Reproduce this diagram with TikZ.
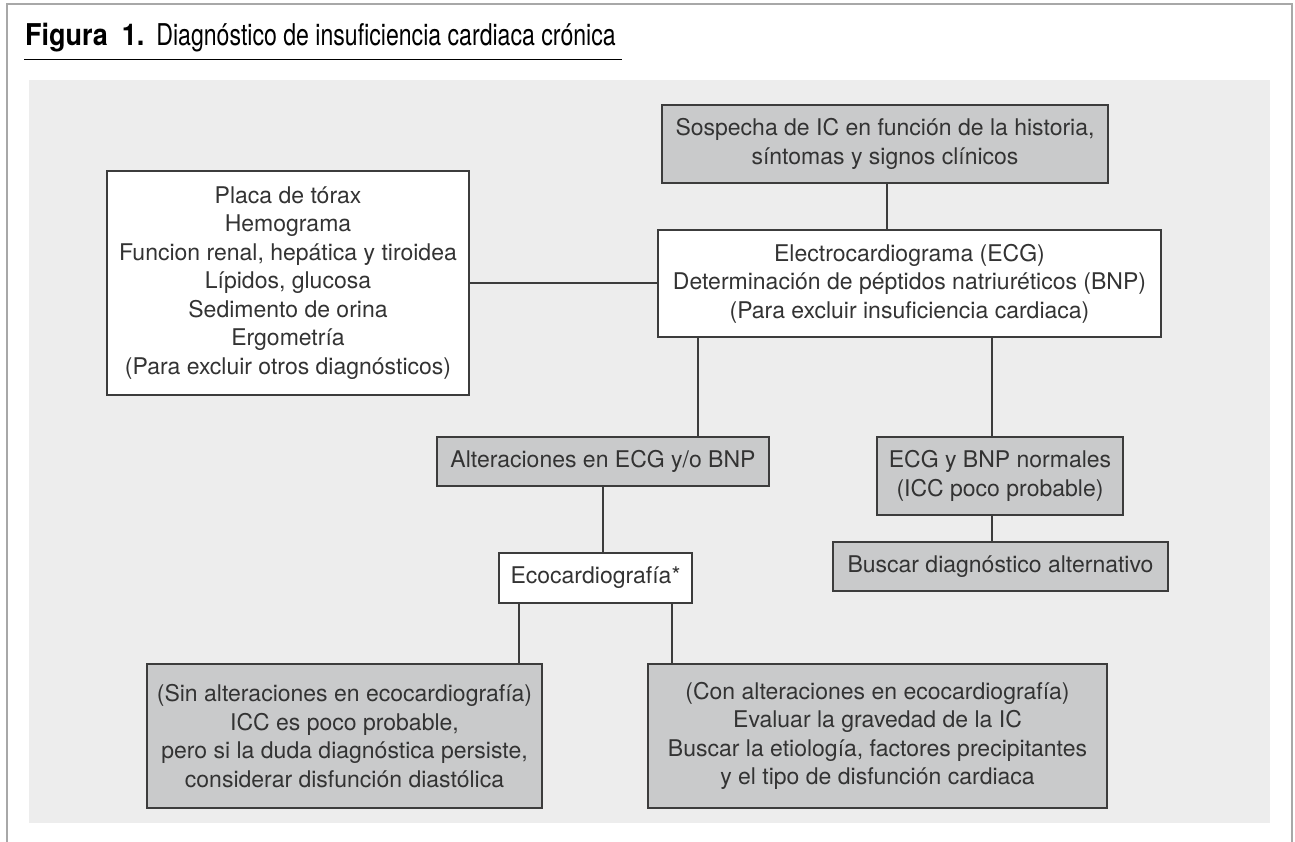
\documentclass[tikz,border=0pt]{standalone}
\usepackage{fontspec}
\setmainfont{TeX Gyre Heros}
\usetikzlibrary{calc}
\definecolor{bg}{HTML}{EDEDED}
\definecolor{boxgray}{HTML}{C9CACB}
\definecolor{edge}{HTML}{3C3C3C}
\definecolor{txt}{HTML}{333333}
\definecolor{framegray}{HTML}{A8A8A8}
\begin{document}
\begin{tikzpicture}[x=1pt,y=-1pt,
  box/.style={draw=edge, line width=1.3pt, text=txt, align=center, inner sep=0pt,
    font=\fontsize{23}{28.5}\selectfont},
  graybox/.style={box, fill=boxgray},
  whitebox/.style={box, fill=white},
  link/.style={draw=edge, line width=1.3pt}]
\useasboundingbox (0,0) rectangle (1295,842);
\fill[white] (0,0) rectangle (1295,842);
\draw[framegray, line width=1.5pt] (7,842) -- (7,4) -- (1292,4) -- (1292,842);
\fill[bg] (29,80) rectangle (1270,823);

% title
\node[anchor=base west, inner sep=0pt, text=black] (title) at (25,46)
  {\fontsize{30}{34}\selectfont\scalebox{0.9}[1]{\textbf{Figura}}\hspace{14pt}\scalebox{0.9}[1]{\textbf{1.}}\hspace{12pt}\scalebox{0.77}[1]{Diagnóstico de insuficiencia cardiaca crónica}};
\draw[black, line width=1pt] (24,60) -- (622,60);

% boxes
\node[graybox, minimum width=446pt, minimum height=78pt] (top) at (885,144)
  {Sospecha de IC en función de la historia,\\síntomas y signos clínicos};
\node[whitebox, minimum width=503pt, minimum height=107pt] (mid) at (909.5,283.5)
  {Electrocardiograma (ECG)\\Determinación de péptidos natriuréticos (BNP)\\(Para excluir insuficiencia cardiaca)};
\node[whitebox, minimum width=362pt, minimum height=224pt] (left) at (288,283)
  {Placa de tórax\\Hemograma\\Funcion renal, hepática y tiroidea\\Lípidos, glucosa\\Sedimento de orina\\Ergometría\\(Para excluir otros diagnósticos)};
\node[graybox, minimum width=332pt, minimum height=49pt] (alter) at (603,461.5)
  {Alteraciones en ECG y/o BNP};
\node[graybox, minimum width=246pt, minimum height=78pt] (normal) at (1000,476)
  {ECG y BNP normales\\(ICC poco probable)};
\node[graybox, minimum width=335pt, minimum height=49pt] (buscar) at (1000.5,566.5)
  {Buscar diagnóstico alternativo};
\node[whitebox, minimum width=193pt, minimum height=50pt] (eco) at (595.5,578)
  {Ecocardiografía*};
\node[graybox, minimum width=395pt, minimum height=144pt] (sin) at (344.5,736)
  {(Sin alteraciones en ecocardiografía)\\ICC es poco probable,\\pero si la duda diagnóstica persiste,\\considerar disfunción diastólica};
\node[graybox, minimum width=459pt, minimum height=144pt] (con) at (877.5,736)
  {(Con alteraciones en ecocardiografía)\\Evaluar la gravedad de la IC\\Buscar la etiología, factores precipitantes\\y el tipo de disfunción cardiaca};

% connectors
\draw[link] ([xshift=2pt]top.south) -- ([xshift=2pt]top.south |- mid.north);
\draw[link] (left.east) -- (left.east -| mid.west);
\draw[link] ([xshift=95pt]alter.north) -- ([xshift=95pt]alter.north |- mid.south);
\draw[link] ([xshift=-8pt]normal.north) -- ([xshift=-8pt]normal.north |- mid.south);
\draw[link] ([xshift=-8pt]normal.south) -- ([xshift=-8pt]normal.south |- buscar.north);
\draw[link] (alter.south) -- (alter.south |- eco.north);
\draw[link] ([xshift=-76.5pt]eco.south) -- ([xshift=-76.5pt]eco.south |- sin.north);
\draw[link] ([xshift=76.5pt]eco.south) -- ([xshift=76.5pt]eco.south |- con.north);
\end{tikzpicture}
\end{document}
